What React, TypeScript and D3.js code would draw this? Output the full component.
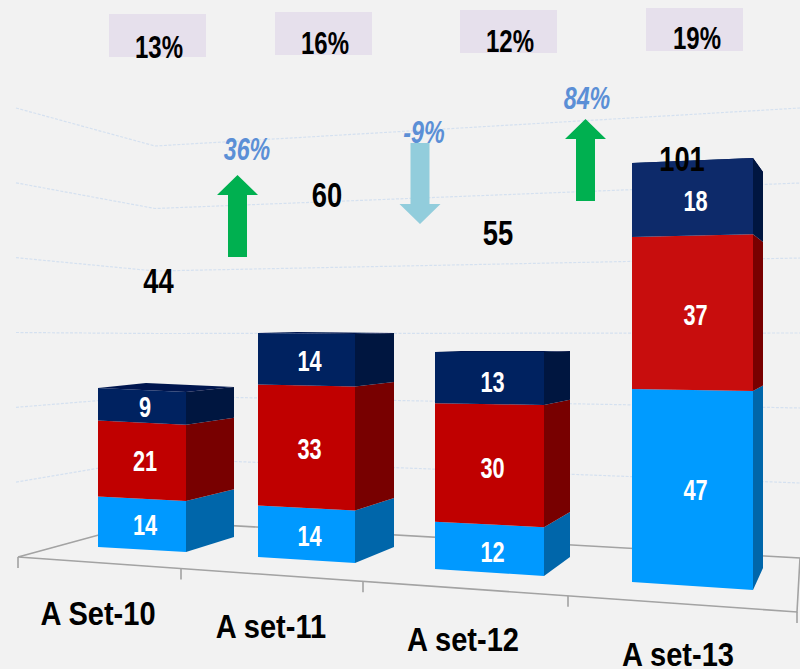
import * as d3 from "d3";

const WIDTH = 800;
const HEIGHT = 669;

// values
const categories = ["A Set-10", "A set-11", "A set-12", "A set-13"];
const lightBlue = [14, 14, 12, 47];
const red = [21, 33, 30, 37];
const navy = [9, 14, 13, 18];
const totals = [44, 60, 55, 101];
const shares = [13, 16, 12, 19];
const growth = [36, -9, 84];
const gridSteps = [0, 1, 2, 3, 4, 5, 6];

const SERIES = ["lightBlue", "red", "navy"];
const FRONT = ["#0099ff", "#c00000", "#002060"];
const FRONT_LAST = ["#059bff", "#c80808", "#0c2a6b"]; // last box is a bit lighter
const SIDE = ["#0066aa", "#780000", "#001340"];
const TOP = "#00184f";
const FONT = "'Liberation Sans', Arial, sans-serif";

// perspective calibration: one range per visible vertical edge of the boxes
const idx = [0, 1, 2, 3];
const edgeX = [
  d3.scaleLinear().domain(idx).range([98, 258, 435, 632]),
  d3.scaleLinear().domain(idx).range([186, 355, 544, 753]),
  d3.scaleLinear().domain(idx).range([234, 394, 570, 763]),
];
const edgeBottom = [
  d3.scaleLinear().domain(idx).range([547, 557, 569, 582]),
  d3.scaleLinear().domain(idx).range([552, 563, 576, 590]),
  d3.scaleLinear().domain(idx).range([537, 547, 557, 568]),
];
const edgeTop = [
  d3.scaleLinear().domain(idx).range([388, 333, 352, 163]),
  d3.scaleLinear().domain(idx).range([392, 334, 352, 158]),
  d3.scaleLinear().domain(idx).range([387, 333, 351, 172]),
];
const labelDrop = d3.scaleLinear().domain(idx).range([10.8, 12, 13.5, 12.5]);

const floorX = d3.scaleLinear().domain([0, 1, 2, 3, 4]).range([18, 181, 363, 568, 797]);
const floorY = d3.scaleLinear().domain([18, 797]).range([557, 612]);

const wallLeft = d3.scaleLinear().domain([0, 6]).range([557, 108]);
const wallCorner = d3.scaleLinear().domain([0, 6]).range([521, 146]);
const wallRight = d3.scaleLinear().domain([0, 6]).range([558, 108]);

const shareBoxX = d3.scaleLinear().domain(idx).range([109, 275, 460, 646]);
const shareBoxY = d3.scaleLinear().domain(idx).range([14, 12, 10, 8]);
const shareX = d3.scaleLinear().domain(idx).range([159, 325, 510, 697]);
const shareY = d3.scaleLinear().domain(idx).range([58, 54, 52, 49]);
const totalX = d3.scaleLinear().domain(idx).range([158.5, 327, 498, 682]);
const totalY = d3.scaleLinear().domain(idx).range([293, 207, 245, 171]);
const catX = d3.scaleLinear().domain(idx).range([98, 271, 463, 678]);
const catY = d3.scaleLinear().domain(idx).range([625, 638, 651, 666]);

const arrowX = d3.scaleLinear().domain([0, 1, 2]).range([237.5, 420, 585.5]);
const arrowTop = d3.scaleLinear().domain([0, 1, 2]).range([175, 143, 119]);
const growthX = d3.scaleLinear().domain([0, 1, 2]).range([247, 424, 587]);
const growthY = d3.scaleLinear().domain([0, 1, 2]).range([160, 143, 109]);

const rows = categories.map((c, i) => ({
  category: c,
  lightBlue: lightBlue[i],
  red: red[i],
  navy: navy[i],
}));
const stacked = d3.stack<any>().keys(SERIES)(rows);

const line = d3.line<[number, number]>();

// value -> screen y on a given edge of a given box
const edgeY = (edge: number, i: number) => {
  const sum = lightBlue[i] + red[i] + navy[i];
  return d3
    .scaleLinear()
    .domain([0, sum])
    .range([edgeBottom[edge](i), edgeTop[edge](i)]);
};

const arrowPath = (g: number, i: number) => {
  const cx = arrowX(i);
  const top = arrowTop(i);
  const up = g >= 0;
  const pts: [number, number][] = up
    ? [
        [cx, top],
        [cx + 20.5, top + 20],
        [cx + 9.5, top + 20],
        [cx + 9.5, top + 82],
        [cx - 9.5, top + 82],
        [cx - 9.5, top + 20],
        [cx - 20.5, top + 20],
      ]
    : [
        [cx - 9.5, top],
        [cx + 9.5, top],
        [cx + 9.5, top + 61],
        [cx + 20.5, top + 61],
        [cx, top + 81],
        [cx - 20.5, top + 61],
        [cx - 9.5, top + 61],
      ];
  return line(pts) + "Z";
};

const Label = ({ x, y, size, fill, text, sx = 0.75, italic = false }: any) => (
  <text
    transform={`translate(${x},${y}) scale(${sx},1)`}
    textAnchor="middle"
    fontFamily={FONT}
    fontWeight="bold"
    fontStyle={italic ? "italic" : "normal"}
    fontSize={size}
    fill={fill}
  >
    {text}
  </text>
);

export default function App() {
  return (
    <svg
      width={WIDTH}
      height={HEIGHT}
      style={{ position: "absolute", left: 0, top: 0, background: "#f2f2f2" }}
    >
      <defs>
        <filter id="soft" x="-5%" y="-5%" width="110%" height="110%">
          <feGaussianBlur stdDeviation="0.5" />
        </filter>
      </defs>

      {/* wall grid */}
      <g fill="none" stroke="#d5e1f0" strokeWidth={1.2} strokeDasharray="3 1.5">
        {gridSteps.slice(1).map((g) => (
          <path
            key={g}
            d={
              line([
                [16, wallLeft(g)],
                [155, wallCorner(g)],
                [800, wallRight(g)],
              ]) || ""
            }
          />
        ))}
      </g>

      {/* floor */}
      <g fill="none" stroke="#a3a3a3" strokeWidth={1.6} filter="url(#soft)">
        <path
          d={
            line([
              [floorX(0), floorY(floorX(0))],
              [150, wallCorner(0)],
              [800, wallRight(0)],
              [floorX(4), floorY(floorX(4))],
              [floorX(0), floorY(floorX(0))],
            ]) || ""
          }
        />
        {floorX.domain().map((t) => (
          <path
            key={t}
            d={
              line([
                [floorX(t), floorY(floorX(t))],
                [floorX(t), floorY(floorX(t)) + 11],
              ]) || ""
            }
          />
        ))}
      </g>

      {/* boxes */}
      <g filter="url(#soft)">
        {categories.map((c, i) => {
          const [l, f, r] = [0, 1, 2].map((e) => edgeX[e](i));
          const [tl, tf, tr] = [0, 1, 2].map((e) => edgeTop[e](i));
          return (
            <path
              key={c}
              fill={TOP}
              d={
                line([
                  [l, tl],
                  [l + r - f, tl + tr - tf],
                  [r, tr],
                  [f, tf],
                ]) + "Z"
              }
            />
          );
        })}
        {stacked.map((layer, s) =>
          layer.map((d, i) => {
            const [l, f, r] = [0, 1, 2].map((e) => edgeX[e](i));
            const [yl, yf, yr] = [0, 1, 2].map((e) => edgeY(e, i));
            return (
              <g key={`${s}-${i}`}>
                <path
                  fill={i === 3 ? FRONT_LAST[s] : FRONT[s]}
                  d={
                    line([
                      [l, yl(d[0])],
                      [f, yf(d[0])],
                      [f, yf(d[1])],
                      [l, yl(d[1])],
                    ]) + "Z"
                  }
                />
                <path
                  fill={SIDE[s]}
                  d={
                    line([
                      [f, yf(d[0])],
                      [r, yr(d[0])],
                      [r, yr(d[1])],
                      [f, yf(d[1])],
                    ]) + "Z"
                  }
                />
              </g>
            );
          })
        )}
      </g>

      {/* segment values */}
      {stacked.map((layer, s) =>
        layer.map((d, i) => {
          const v = (d[0] + d[1]) / 2;
          const y = (edgeY(0, i)(v) + edgeY(1, i)(v)) / 2 + labelDrop(i);
          const x = (edgeX[0](i) + edgeX[1](i)) / 2 + 3;
          return (
            <Label
              key={`${s}-${i}`}
              x={x}
              y={y}
              size={29}
              fill="#fff"
              text={d[1] - d[0]}
            />
          );
        })
      )}

      {/* share boxes */}
      {shares.map((v, i) => (
        <g key={i}>
          <rect
            x={shareBoxX(i)}
            y={shareBoxY(i)}
            width={97}
            height={43}
            fill="#e6e0ec"
          />
          <Label x={shareX(i)} y={shareY(i)} size={32} fill="#000" text={`${v}%`} />
        </g>
      ))}

      {/* growth arrows */}
      {growth.map((g, i) => (
        <g key={i}>
          <path d={arrowPath(g, i)} fill={g >= 0 ? "#00b050" : "#92cddc"} />
          <Label
            x={growthX(i)}
            y={growthY(i)}
            size={31}
            fill="#5b8fd6"
            text={`${g}%`}
            italic
          />
        </g>
      ))}

      {/* totals */}
      {totals.map((v, i) => (
        <Label key={i} x={totalX(i)} y={totalY(i)} size={36} sx={0.76} fill="#000" text={v} />
      ))}

      {/* categories */}
      {categories.map((c, i) => (
        <Label key={c} x={catX(i)} y={catY(i)} size={33} fill="#000" text={c} sx={0.88} />
      ))}
    </svg>
  );
}
